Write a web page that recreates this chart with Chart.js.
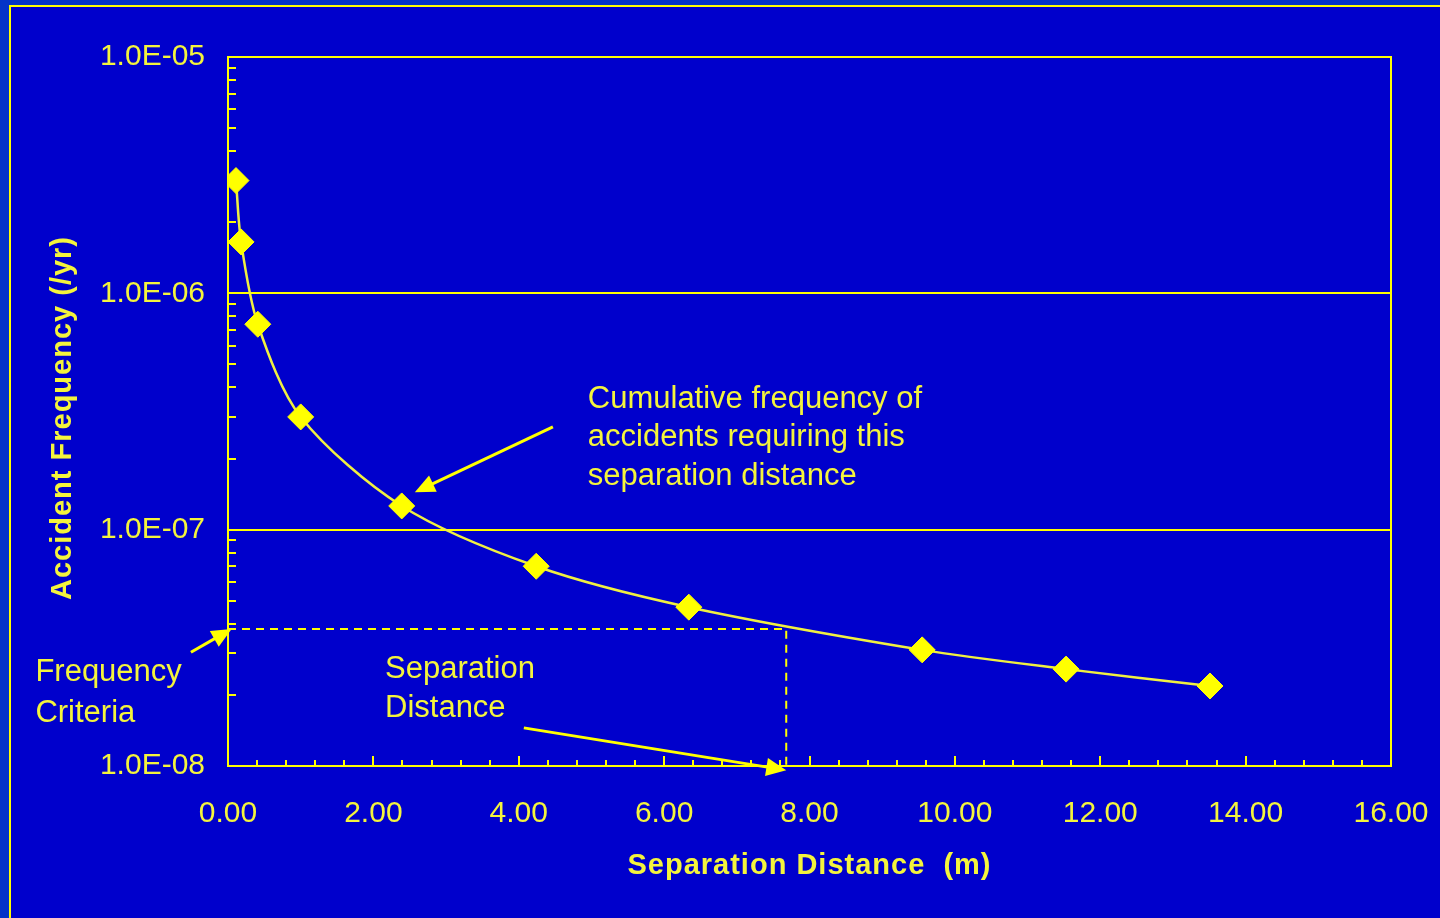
<!DOCTYPE html>
<html>
<head>
<meta charset="utf-8">
<script src="https://cdn.jsdelivr.net/npm/chart.js@4/dist/chart.umd.min.js"></script>
<style>
  html, body { margin: 0; padding: 0; background: #0000cc; }
  canvas { display: block; }
</style>
</head>
<body>
<canvas id="freqChart" width="1440" height="918"></canvas>
<script>
// separation distance (m) and cumulative accident frequency (/yr)
const distances = [0.11, 0.18, 0.41, 1.00, 2.39, 4.24, 6.34, 9.55, 11.53, 13.51];
const frequencies = [3.0e-6, 1.65e-6, 7.4e-7, 3.0e-7, 1.26e-7, 7.0e-8, 4.7e-8, 3.1e-8, 2.57e-8, 2.18e-8];

const yTicks = [1e-8, 1e-7, 1e-6, 1e-5];
const xMin = 0, xMax = 16, xStep = 2, xMinorStep = 0.4;

// frequency criteria and the separation distance it gives
const criteriaFrequency = 3.8e-8;
const criteriaDistance = 7.68;

const yellow = '#ffff00';
const textYellow = '#f4f43c';
const font = '"Liberation Sans", Arial, sans-serif';

// annotations, positions in data units
const notes = [
    { lines: ['Cumulative frequency of', 'accidents requiring this', 'separation distance'], x: 4.95, y: 3.57e-7, gap: 38.5,
      arrow: { from: [4.47, 2.72e-7], to: [2.57, 1.44e-7] } },
    { lines: ['Frequency', 'Criteria'], x: -2.65, y: 2.49e-8, gap: 41,
      arrow: { from: [-0.51, 3.03e-8], to: [0.05, 3.8e-8] } },
    { lines: ['Separation', 'Distance'], x: 2.16, y: 2.55e-8, gap: 39,
      arrow: { from: [4.07, 1.45e-8], to: [7.68, 9.6e-9] } }
];

function expLabel(v) {
    const e = Math.round(Math.log10(v));
    return '1.0E' + (e < 0 ? '-' : '+') + String(Math.abs(e)).padStart(2, '0');
}

function arrow(ctx, x1, y1, x2, y2) {
    const ang = Math.atan2(y2 - y1, x2 - x1);
    const len = 20, half = 9;
    ctx.beginPath();
    ctx.moveTo(x1, y1);
    ctx.lineTo(x2 - Math.cos(ang) * len * 0.8, y2 - Math.sin(ang) * len * 0.8);
    ctx.lineWidth = 3;
    ctx.stroke();
    ctx.beginPath();
    ctx.moveTo(x2, y2);
    ctx.lineTo(x2 - Math.cos(ang) * len + Math.sin(ang) * half, y2 - Math.sin(ang) * len - Math.cos(ang) * half);
    ctx.lineTo(x2 - Math.cos(ang) * len - Math.sin(ang) * half, y2 - Math.sin(ang) * len + Math.cos(ang) * half);
    ctx.closePath();
    ctx.fill();
}

const framePlugin = {
    id: 'frame',
    beforeDraw(chart) {
        const ctx = chart.ctx;
        ctx.save();
        ctx.fillStyle = '#0000cc';
        ctx.fillRect(0, 0, chart.width, chart.height);
        // outer slide frame
        ctx.fillStyle = '#0434c8';
        ctx.fillRect(0, 0, chart.width, 5);
        ctx.fillRect(0, 0, 9, chart.height);
        ctx.strokeStyle = yellow;
        ctx.lineWidth = 2;
        ctx.beginPath();
        ctx.moveTo(10, chart.height);
        ctx.lineTo(10, 6);
        ctx.lineTo(chart.width, 6);
        ctx.stroke();
        ctx.restore();
    },
    beforeDatasetsDraw(chart) {
        const ctx = chart.ctx;
        const area = chart.chartArea;
        const x = chart.scales.x, y = chart.scales.y;
        ctx.save();
        ctx.strokeStyle = yellow;
        ctx.lineWidth = 2;
        // major horizontal grid
        yTicks.forEach(v => {
            const py = Math.round(y.getPixelForValue(v));
            ctx.beginPath();
            ctx.moveTo(area.left, py);
            ctx.lineTo(area.right, py);
            ctx.stroke();
        });
        ctx.strokeRect(area.left, area.top, area.right - area.left, area.bottom - area.top);
        // minor y ticks
        for (let d = 0; d < yTicks.length - 1; d++) {
            for (let m = 2; m <= 9; m++) {
                const py = Math.round(y.getPixelForValue(yTicks[d] * m));
                ctx.beginPath();
                ctx.moveTo(area.left, py);
                ctx.lineTo(area.left + 8, py);
                ctx.stroke();
            }
        }
        // x ticks
        const n = Math.round((xMax - xMin) / xMinorStep);
        for (let i = 1; i < n; i++) {
            const v = xMin + i * xMinorStep;
            const px = Math.round(x.getPixelForValue(v));
            const major = Math.abs(v / xStep - Math.round(v / xStep)) < 1e-6;
            ctx.beginPath();
            ctx.moveTo(px, area.bottom);
            ctx.lineTo(px, area.bottom - (major ? 10 : 6));
            ctx.stroke();
        }
        // frequency criteria guide lines
        const cx = x.getPixelForValue(criteriaDistance);
        const cy = y.getPixelForValue(criteriaFrequency);
        ctx.setLineDash([8, 6]);
        ctx.lineWidth = 2;
        ctx.beginPath();
        ctx.moveTo(area.left, cy);
        ctx.lineTo(cx, cy);
        ctx.lineTo(cx, area.bottom);
        ctx.stroke();
        ctx.restore();
    },
    afterDraw(chart) {
        const ctx = chart.ctx;
        const x = chart.scales.x, y = chart.scales.y;
        const area = chart.chartArea;
        ctx.save();
        ctx.fillStyle = textYellow;
        ctx.strokeStyle = yellow;
        ctx.textBaseline = 'middle';
        // axis titles
        ctx.font = 'bold 29px ' + font;
        ctx.letterSpacing = '1px';
        ctx.textAlign = 'center';
        ctx.fillText('Separation Distance  (m)', (area.left + area.right) / 2, 866);
        ctx.save();
        ctx.translate(63, 418);
        ctx.rotate(-Math.PI / 2);
        ctx.fillText('Accident Frequency (/yr)', 0, 0);
        ctx.restore();
        ctx.letterSpacing = '0px';
        // notes and arrows
        ctx.font = '31px ' + font;
        ctx.textAlign = 'left';
        notes.forEach(note => {
            const tx = x.getPixelForValue(note.x);
            const ty = y.getPixelForValue(note.y);
            note.lines.forEach((line, i) => ctx.fillText(line, tx, ty + i * note.gap));
            ctx.fillStyle = yellow;
            arrow(ctx,
                x.getPixelForValue(note.arrow.from[0]), y.getPixelForValue(note.arrow.from[1]),
                x.getPixelForValue(note.arrow.to[0]), y.getPixelForValue(note.arrow.to[1]));
            ctx.fillStyle = textYellow;
        });
        ctx.restore();
    }
};

new Chart(document.getElementById('freqChart'), {
    type: 'line',
    data: {
        datasets: [{
            data: distances.map((d, i) => ({ x: d, y: frequencies[i] })),
            borderColor: '#f0f040',
            borderWidth: 2.5,
            tension: 0.3,
            pointStyle: 'rectRot',
            pointRadius: 13,
            pointBackgroundColor: yellow,
            pointBorderColor: yellow,
            pointBorderWidth: 1
        }]
    },
    options: {
        responsive: false,
        animation: false,
        devicePixelRatio: 1,
        layout: { padding: { top: 57, right: 49, left: 0, bottom: 0 } },
        plugins: { legend: { display: false }, tooltip: { enabled: false } },
        scales: {
            x: {
                type: 'linear',
                min: xMin,
                max: xMax,
                grid: { display: false },
                border: { display: false },
                ticks: {
                    stepSize: xStep,
                    maxRotation: 0,
                    padding: 22,
                    color: textYellow,
                    font: { family: font, size: 30 },
                    callback: v => v.toFixed(2)
                },
                afterFit: scale => {
                    scale.height = 152;
                    scale.paddingLeft = 0;
                    scale.paddingRight = 0;
                }
            },
            y: {
                type: 'logarithmic',
                min: 1e-8,
                max: 1e-5,
                grid: { display: false },
                border: { display: false },
                afterBuildTicks: scale => { scale.ticks = yTicks.map(v => ({ value: v })); },
                ticks: {
                    padding: 15,
                    color: textYellow,
                    font: { family: font, size: 30 },
                    callback: v => expLabel(v)
                },
                afterFit: scale => {
                    scale.width = 228;
                    scale.paddingTop = 0;
                    scale.paddingBottom = 0;
                }
            }
        }
    },
    plugins: [framePlugin]
});
</script>
</body>
</html>
